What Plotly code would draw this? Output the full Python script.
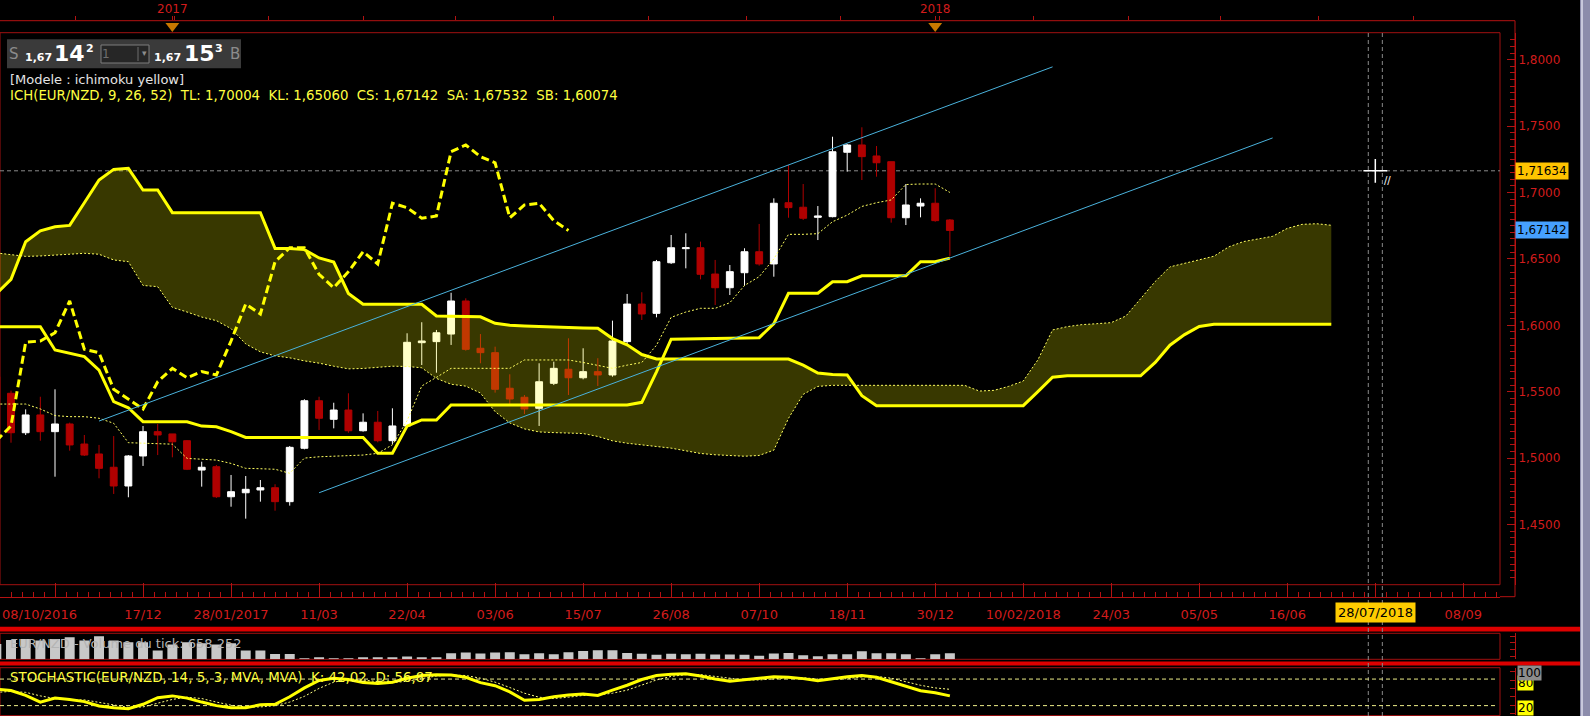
import pandas as pd
import plotly.graph_objects as go

W, H = 1590, 716
FONT = 'DejaVu Sans'
RED_TXT = '#d21c1c'
RED_LINE = '#b41212'
FRAME = '#a01010'
YEL = '#ffff00'


def fx(p):  # pixel column -> paper x
    return p / W


def fy(p):  # pixel row -> paper y
    return 1 - p / H


# weekly EUR/NZD bars, 08/10/2016 -> 06/01/2018
dates = pd.date_range('2016-10-08', periods=66, freq='7D')
# kumo projected 26 weeks ahead
kumo_dates = pd.date_range('2016-10-08', periods=92, freq='7D')

open_ = [1.5613, 1.5488, 1.5191, 1.5325, 1.5199, 1.5257, 1.5106, 1.5031, 1.4931, 1.4790,
         1.5016, 1.5199, 1.5182, 1.5131, 1.4910, 1.4935, 1.4709, 1.4739, 1.4760, 1.4777,
         1.4672, 1.5074, 1.5432, 1.5292, 1.5362, 1.5206, 1.5270, 1.5131, 1.5242, 1.5869,
         1.5877, 1.5934, 1.6183, 1.5827, 1.5794, 1.5526, 1.5458, 1.5375, 1.5563, 1.5669,
         1.5605, 1.5651, 1.5626, 1.5877, 1.6160, 1.6090, 1.6471, 1.6577, 1.6584, 1.6386,
         1.6283, 1.6396, 1.6554, 1.6462, 1.6923, 1.6889, 1.6813, 1.6818, 1.7303, 1.7358,
         1.7275, 1.7232, 1.6810, 1.6898, 1.6919, 1.6793]
high = [1.5650, 1.5508, 1.5367, 1.5462, 1.5518, 1.5267, 1.5174, 1.5099, 1.5166, 1.5023,
        1.5242, 1.5257, 1.5182, 1.5136, 1.4973, 1.4948, 1.4873, 1.4865, 1.4835, 1.4803,
        1.5091, 1.5443, 1.5462, 1.5417, 1.5488, 1.5337, 1.5355, 1.5375, 1.5940, 1.6023,
        1.5965, 1.6245, 1.6203, 1.5934, 1.5839, 1.5631, 1.5475, 1.5714, 1.5726, 1.5902,
        1.5827, 1.5752, 1.6035, 1.6236, 1.6249, 1.6492, 1.6680, 1.6693, 1.6630, 1.6492,
        1.6454, 1.6580, 1.6763, 1.6956, 1.7207, 1.7064, 1.6898, 1.7420, 1.7365, 1.7491,
        1.7350, 1.7232, 1.7064, 1.6956, 1.7032, 1.6800]
low = [1.5400, 1.5116, 1.5174, 1.5131, 1.4860, 1.5056, 1.5016, 1.4848, 1.4730, 1.4705,
       1.4941, 1.5023, 1.5006, 1.4910, 1.4785, 1.4700, 1.4634, 1.4544, 1.4672, 1.4604,
       1.4642, 1.5066, 1.5212, 1.5224, 1.5191, 1.5199, 1.5119, 1.5106, 1.5236, 1.5701,
       1.5643, 1.5852, 1.5809, 1.5714, 1.5493, 1.5407, 1.5332, 1.5242, 1.5550, 1.5475,
       1.5593, 1.5543, 1.5613, 1.5852, 1.6040, 1.6060, 1.6462, 1.6429, 1.6346, 1.6153,
       1.6228, 1.6298, 1.6449, 1.6366, 1.6810, 1.6793, 1.6642, 1.6813, 1.7157, 1.7094,
       1.7119, 1.6773, 1.6755, 1.6813, 1.6780, 1.6522]
close = [1.5440, 1.5191, 1.5325, 1.5199, 1.5257, 1.5099, 1.5023, 1.4923, 1.4790, 1.5016,
         1.5199, 1.5174, 1.5123, 1.4916, 1.4931, 1.4709, 1.4747, 1.4765, 1.4777, 1.4672,
         1.5081, 1.5432, 1.5300, 1.5362, 1.5206, 1.5270, 1.5131, 1.5242, 1.5872, 1.5882,
         1.5944, 1.6183, 1.5819, 1.5794, 1.5518, 1.5445, 1.5370, 1.5575, 1.5676, 1.5605,
         1.5651, 1.5626, 1.5882, 1.6160, 1.6085, 1.6479, 1.6584, 1.6584, 1.6384, 1.6283,
         1.6404, 1.6554, 1.6462, 1.6919, 1.6886, 1.6806, 1.6823, 1.7307, 1.7358, 1.7270,
         1.7224, 1.6810, 1.6906, 1.6919, 1.6788, 1.67142]

tenkan = [1.5407, 1.5407, 1.5407, 1.5370, 1.5320, 1.5312, 1.5312, 1.5300, 1.5262, 1.5116,
          1.5111, 1.5111, 1.5105, 1.4998, 1.4991, 1.4985, 1.4960, 1.4923, 1.4920, 1.4916,
          1.4886, 1.5000, 1.5010, 1.5015, 1.5020, 1.5023, 1.5036, 1.5100, 1.5282, 1.5543,
          1.5608, 1.5676, 1.5676, 1.5676, 1.5676, 1.5676, 1.5739, 1.5739, 1.5739, 1.5739,
          1.5720, 1.5700, 1.5676, 1.5700, 1.5720, 1.5850, 1.6060, 1.6100, 1.6128, 1.6128,
          1.6170, 1.6300, 1.6366, 1.6500, 1.6685, 1.6685, 1.6690, 1.6780, 1.6830, 1.6895,
          1.6923, 1.6944, 1.7060, 1.7064, 1.7064, 1.70004]
kijun = [1.5989, 1.5989, 1.5989, 1.5989, 1.5814, 1.5789, 1.5764, 1.5663, 1.5425, 1.5379,
         1.5274, 1.5274, 1.5274, 1.5274, 1.5241, 1.5236, 1.5199, 1.5156, 1.5156, 1.5156,
         1.5156, 1.5156, 1.5156, 1.5156, 1.5156, 1.5156, 1.5036, 1.5036, 1.5241, 1.5287,
         1.5287, 1.5400, 1.5400, 1.5400, 1.5400, 1.5400, 1.5400, 1.5400, 1.5400, 1.5400,
         1.5400, 1.5400, 1.5400, 1.5400, 1.5420, 1.5650, 1.5895, 1.5895, 1.5897, 1.5900,
         1.5902, 1.5905, 1.5907, 1.6012, 1.6241, 1.6241, 1.6241, 1.6328, 1.6328, 1.6373,
         1.6373, 1.6373, 1.6373, 1.6479, 1.6479, 1.65060]
senkou_a = [1.6545, 1.6530, 1.6519, 1.6522, 1.6530, 1.6537, 1.6542, 1.6535, 1.6492, 1.6479,
            1.6300, 1.6291, 1.6135, 1.6100, 1.6062, 1.6035, 1.5975, 1.5860, 1.5800, 1.5770,
            1.5755, 1.5732, 1.5715, 1.5692, 1.5672, 1.5675, 1.5683, 1.5692, 1.5690, 1.5680,
            1.5600, 1.5556, 1.5542, 1.5490, 1.5350, 1.5265, 1.5220, 1.5197, 1.5192, 1.5191,
            1.5185, 1.5163, 1.5130, 1.5112, 1.5100, 1.5092, 1.5075, 1.5055, 1.5035, 1.5025,
            1.5018, 1.5014, 1.5020, 1.5060, 1.5300, 1.5480, 1.5540, 1.5548, 1.5548, 1.5548,
            1.5548, 1.5548, 1.5548, 1.5548, 1.5548, 1.5548, 1.5548, 1.5505, 1.5510, 1.5540,
            1.5580, 1.5740, 1.5965, 1.5990, 1.6005, 1.6012, 1.6020, 1.6070, 1.6200, 1.6330,
            1.6440, 1.6465, 1.6490, 1.6520, 1.6590, 1.6630, 1.6650, 1.6670, 1.6730, 1.6760,
            1.6765, 1.67532]
senkou_b = [1.6238, 1.6346, 1.6629, 1.6712, 1.6742, 1.6752, 1.6923, 1.7094, 1.7174, 1.7182,
            1.7019, 1.7019, 1.6848, 1.6848, 1.6848, 1.6848, 1.6848, 1.6848, 1.6848, 1.6579,
            1.6579, 1.6570, 1.6507, 1.6476, 1.6240, 1.6158, 1.6158, 1.6158, 1.6158, 1.6158,
            1.6070, 1.6067, 1.6066, 1.6064, 1.6015, 1.6000, 1.5995, 1.5990, 1.5988, 1.5985,
            1.5980, 1.5977, 1.5900, 1.5853, 1.5780, 1.5746, 1.5746, 1.5746, 1.5746, 1.5746,
            1.5746, 1.5746, 1.5746, 1.5746, 1.5746, 1.5700, 1.5640, 1.5630, 1.5626, 1.5470,
            1.5395, 1.5395, 1.5395, 1.5395, 1.5395, 1.5395, 1.5395, 1.5395, 1.5395, 1.5395,
            1.5395, 1.5500, 1.5609, 1.5620, 1.5620, 1.5620, 1.5620, 1.5620, 1.5620, 1.5720,
            1.5850, 1.5930, 1.5991, 1.6007, 1.6007, 1.6007, 1.6007, 1.6007, 1.6007, 1.6007,
            1.6007, 1.60074]

# hand-drawn trend channel (start / end of each line)
chan_up_x = ['2016-11-26', '2018-02-24']
chan_up_y = [1.5279, 1.7946]
chan_lo_x = ['2017-03-11', '2018-06-09']
chan_lo_y = [1.4739, 1.7411]

volume = [1680000, 2120000, 2230000, 2060000, 2230000, 2420000, 2060000, 2530000, 2060000, 1870000,
          1870000, 960000, 1620000, 1870000, 1760000, 1620000, 1760000, 960000, 960000, 580000,
          580000, 40000, 140000, 80000, 80000, 140000, 140000, 140000, 300000, 220000,
          140000, 660000, 740000, 630000, 740000, 770000, 550000, 660000, 550000, 770000,
          910000, 990000, 990000, 700000, 620000, 500000, 600000, 550000, 600000, 520000,
          520000, 500000, 400000, 630000, 700000, 440000, 330000, 550000, 550000, 880000,
          660000, 660000, 550000, 100000, 550000, 658252]

stoch_k = [57, 54, 43, 28, 37, 34, 29, 19, 15, 13, 23, 38, 42, 37, 28, 20, 15, 15, 22, 23,
           40, 60, 77, 82, 79, 72, 70, 73, 82, 88, 90, 89, 84, 72, 65, 51, 32, 34, 40, 44,
           46, 43, 55, 66, 79, 88, 91, 92, 87, 80, 75, 78, 81, 85, 84, 81, 76, 81, 85, 88,
           84, 74, 64, 53.5, 49, 42.02]
stoch_d = [50, 52, 50, 42, 36, 33, 33, 27, 21, 16, 17, 25, 34, 39, 36, 28, 21, 17, 17, 20,
           28, 41, 59, 73, 79, 78, 74, 72, 75, 81, 87, 89, 88, 82, 73, 61, 48, 39, 36, 39,
           43, 44, 48, 55, 67, 78, 86, 90, 90, 86, 81, 78, 78, 81, 83, 83, 80, 79, 81, 85,
           86, 82, 74, 66, 60, 56.87]

tick_dates = ['2016-11-05', '2016-12-17', '2017-01-28', '2017-03-11', '2017-04-22', '2017-06-03',
              '2017-07-15', '2017-08-26', '2017-10-07', '2017-11-18', '2017-12-30', '2018-02-10',
              '2018-03-24', '2018-05-05', '2018-06-16', '2018-07-28', '2018-09-08']
tick_text = ['', '17/12', '28/01/2017', '11/03', '22/04', '03/06', '15/07', '26/08', '07/10',
             '18/11', '30/12', '10/02/2018', '24/03', '05/05', '16/06', '28/07/2018', '08/09']
year_dates = ['2016-12-31', '2017-12-30']
year_text = ['2017', '2018']
top_minor = ['2016-11-15', '2017-01-01', '2017-02-15', '2017-04-01', '2017-05-15', '2017-07-01',
             '2017-08-15', '2017-10-01', '2017-11-15', '2018-01-01', '2018-02-15', '2018-04-01',
             '2018-05-15', '2018-07-01', '2018-08-15']

cursor_date = '2018-07-28'
cursor_price = 1.71634
last_close = close[-1]
x_range = ['2016-10-09 18:00', '2018-09-25 12:00']


def fmt(v, d):
    return f'{v:.{d}f}'.replace('.', ',')


fig = go.Figure()

fig.add_trace(go.Candlestick(
    x=dates, open=open_, high=high, low=low, close=close,
    increasing=dict(line=dict(color='#ffffff', width=1), fillcolor='#ffffff'),
    decreasing=dict(line=dict(color='#b00000', width=1), fillcolor='#b00000'),
    whiskerwidth=0, hoverinfo='skip', showlegend=False))

# kumo: yellow veil laid over the candles
fig.add_trace(go.Scatter(x=kumo_dates, y=senkou_b, mode='lines',
                         line=dict(color=YEL, width=3), showlegend=False))
fig.add_trace(go.Scatter(x=kumo_dates, y=senkou_a, mode='lines',
                         line=dict(color='#ffff60', width=1, dash='2px,2px'),
                         fill='tonexty', fillcolor='rgba(255,255,0,0.22)', showlegend=False))
fig.add_trace(go.Scatter(x=dates, y=kijun, mode='lines',
                         line=dict(color=YEL, width=3), showlegend=False))
fig.add_trace(go.Scatter(x=dates, y=tenkan, mode='lines',
                         line=dict(color='#ffff60', width=1, dash='2px,2px'), showlegend=False))
# chikou = close drawn 26 weeks back
fig.add_trace(go.Scatter(x=dates[:40], y=close[26:], mode='lines',
                         line=dict(color=YEL, width=3, dash='8px,4px'), showlegend=False))

for cx, cy in [(chan_up_x, chan_up_y), (chan_lo_x, chan_lo_y)]:
    fig.add_trace(go.Scatter(x=cx, y=cy, mode='lines',
                             line=dict(color='#4ab2dc', width=1), showlegend=False))

fig.add_trace(go.Scatter(x=[cursor_date], y=[cursor_price], mode='markers',
                         marker=dict(symbol='cross-thin', size=17,
                                     line=dict(color='#ffffff', width=1.5)),
                         showlegend=False))

fig.add_trace(go.Bar(x=dates, y=volume, marker=dict(color='#c8c8c8', line=dict(width=0)),
                     xaxis='x2', yaxis='y2', showlegend=False))

fig.add_trace(go.Scatter(x=dates, y=stoch_d, mode='lines', xaxis='x3', yaxis='y3',
                         line=dict(color='#ffff80', width=1, dash='2px,2px'), showlegend=False))
fig.add_trace(go.Scatter(x=dates, y=stoch_k, mode='lines', xaxis='x3', yaxis='y3',
                         line=dict(color=YEL, width=3), showlegend=False))

fig.add_trace(go.Scatter(x=year_dates, y=[0.55, 0.55], mode='markers', xaxis='x4', yaxis='y4',
                         marker=dict(symbol='triangle-down', size=12, color='#c87800'),
                         showlegend=False))

plot_dom = [0, fx(1500)]
red_font = dict(family=FONT, size=13, color=RED_TXT)

fig.update_layout(
    width=W, height=H, margin=dict(l=0, r=0, t=0, b=0, pad=0),
    paper_bgcolor='#000000', plot_bgcolor='#000000',
    separators=',.', hovermode=False, dragmode=False, showlegend=False,
    boxgap=0.33, bargap=0.32,
    font=dict(family=FONT, color=RED_TXT),
    xaxis=dict(domain=plot_dom, range=x_range, type='date', anchor='free', position=fy(596.7),
               tickmode='array', tickvals=tick_dates, ticktext=tick_text,
               ticks='inside', ticklen=14, tickcolor=RED_LINE, tickwidth=1,
               showline=True, linecolor=RED_LINE, linewidth=1, showgrid=False, zeroline=False,
               tickfont=red_font, ticklabelstandoff=6,
               minor=dict(ticks='inside', ticklen=5, tickcolor=RED_LINE, tick0='2016-11-05',
                          dtick=453600000, showgrid=False),
               rangeslider=dict(visible=False), fixedrange=True),
    yaxis=dict(domain=[fy(584.7), fy(32.7)], range=[1.40467, 1.82033], side='right',
               anchor='free', position=fx(1515), tickmode='linear', tick0=1.45, dtick=0.05,
               tickformat='.4f', ticks='inside', ticklen=8, tickcolor=RED_LINE,
               minor=dict(ticks='inside', ticklen=5, tickcolor=RED_LINE, tick0=1.45, dtick=0.005,
                          showgrid=False),
               showline=True, linecolor=RED_LINE, showgrid=False, zeroline=False,
               tickfont=dict(family=FONT, size=12, color=RED_TXT), fixedrange=True),
    xaxis2=dict(domain=plot_dom, matches='x', anchor='y2', visible=False),
    yaxis2=dict(domain=[fy(659.3), fy(633.3)], range=[0, 2860000], side='right',
                anchor='free', position=fx(1515), showticklabels=False, ticks='inside',
                ticklen=5, tickcolor=RED_LINE, tickmode='linear', tick0=363000, dtick=733000,
                showline=True, linecolor=RED_LINE, showgrid=False, zeroline=False),
    xaxis3=dict(domain=plot_dom, matches='x', anchor='y3', visible=False),
    yaxis3=dict(domain=[fy(715.4), fy(667.7)], range=[-2.1, 105.7], side='right',
                anchor='free', position=fx(1515), showticklabels=False, ticks='inside',
                ticklen=5, tickcolor=RED_LINE, tickmode='linear', tick0=1.8, dtick=19,
                showline=True, linecolor=RED_LINE, showgrid=False, zeroline=False),
    xaxis4=dict(domain=plot_dom, matches='x', anchor='y4', side='top', tickmode='array',
                tickvals=year_dates, ticktext=year_text, ticks='outside', ticklen=4,
                tickcolor=RED_LINE, showline=False, showgrid=False, zeroline=False,
                tickfont=dict(family=FONT, size=12, color=RED_TXT), ticklabelstandoff=-2,
                minor=dict(tickmode='array', tickvals=top_minor, ticks='outside', ticklen=4,
                           tickcolor=RED_LINE)),
    yaxis4=dict(domain=[fy(32.7), fy(20.7)], range=[0, 1], visible=False),
)

shapes = []


def rect(x0, y0, x1, y1, fill=None, line=None, lw=1, layer='below'):
    shapes.append(dict(type='rect', xref='paper', yref='paper', x0=fx(x0), x1=fx(x1),
                       y0=fy(y1), y1=fy(y0), fillcolor=fill or 'rgba(0,0,0,0)',
                       line=dict(color=line or 'rgba(0,0,0,0)', width=lw if line else 0),
                       layer=layer))


def hline(x0, x1, y, color, width=1, dash='solid'):
    shapes.append(dict(type='line', xref='paper', yref='paper', x0=fx(x0), x1=fx(x1),
                       y0=fy(y), y1=fy(y), line=dict(color=color, width=width, dash=dash)))


def vline(x, y0, y1, color, width=1):
    shapes.append(dict(type='line', xref='paper', yref='paper', x0=fx(x), x1=fx(x),
                       y0=fy(y0), y1=fy(y1), line=dict(color=color, width=width)))


# frames and separators
rect(0, 32.7, 1500, 584.7, line=FRAME)
rect(0, 633.3, 1500, 659.3, line=FRAME)
rect(0, 667.7, 1500, 715.6, line=FRAME)
hline(0, 1515, 20.7, RED_LINE)
vline(1515, 20.7, 596.7, RED_LINE)
hline(1500, 1515, 596.7, RED_LINE)
rect(0, 626.8, 1580, 631.5, fill='#dd0000')
rect(0, 661.5, 1580, 665.5, fill='#dd0000')
rect(1580, 0, 1590, 716, fill='#8c8cab')
vline(1582, 0, 716, '#c8c8dc', 2)

# header block
rect(7, 39.3, 241, 68.3, fill='#3a3a3a', layer='above')
rect(101, 45, 149, 63, fill='#262626', line='#7c7c7c', layer='above')
shapes.append(dict(type='line', xref='paper', yref='paper', x0=fx(138), x1=fx(138),
                   y0=fy(47), y1=fy(61), line=dict(color='#6c6c6c', width=1), layer='above'))

# crosshair
shapes.append(dict(type='line', xref='paper', yref='y', x0=0, x1=fx(1500),
                   y0=cursor_price, y1=cursor_price,
                   line=dict(color='#8a8a8a', width=1, dash='4px,3px'), layer='below'))
cur = pd.Timestamp(cursor_date)
for off in (-3.35, 3.35):
    xd = cur + pd.Timedelta(days=off)
    shapes.append(dict(type='line', xref='x', yref='paper', x0=xd, x1=xd, y0=0, y1=fy(32.7),
                       line=dict(color='#8a8a8a', width=1, dash='4px,3px'), layer='below'))

# stochastic 80 / 20 levels
for lvl in (80, 20):
    shapes.append(dict(type='line', xref='paper', yref='y3', x0=0, x1=fx(1496), y0=lvl, y1=lvl,
                       line=dict(color='#eeee88', width=1, dash='4px,3px'), layer='below'))

fig.update_layout(shapes=shapes)

ann = []


def text(x, y, s, color, size=12, anchor='left', **kw):
    ann.append(dict(xref='paper', yref='paper', x=fx(x), y=fy(y), text=s, showarrow=False,
                    xanchor=anchor, yanchor='middle',
                    font=dict(family=FONT, size=size, color=color), **kw))


text(0, 614, '08/10/2016', RED_TXT, 13)
ann.append(dict(xref='x', yref='paper', x=cursor_date, y=fy(612), text='28/07/2018',
                showarrow=False, xanchor='center', yanchor='middle', bgcolor='#ffcc00',
                borderpad=2, font=dict(family=FONT, size=13, color='#000000')))
ann.append(dict(xref='paper', yref='y', x=fx(1515), y=cursor_price, text=fmt(cursor_price, 5),
                showarrow=False, xanchor='left', yanchor='middle', bgcolor='#ffc400',
                borderpad=1, font=dict(family=FONT, size=12, color='#000000')))
ann.append(dict(xref='paper', yref='y', x=fx(1515), y=last_close, text=fmt(last_close, 5),
                showarrow=False, xanchor='left', yanchor='middle', bgcolor='#46a0ff',
                borderpad=1, font=dict(family=FONT, size=12, color='#000000')))
for lvl, bg, ys in [(80, '#ffff00', -4), (100, '#8c8c8c', -3), (20, '#ffff00', -2)]:
    ann.append(dict(xref='paper', yref='y3', x=fx(1517), y=lvl, yshift=ys, text=str(lvl),
                    showarrow=False, xanchor='left', yanchor='middle', bgcolor=bg, borderpad=0,
                    font=dict(family=FONT, size=12, color='#000000')))
# cursor tick marks
ann.append(dict(xref='x', yref='y', x=cursor_date, y=cursor_price, xshift=12, yshift=-10,
                text='//', showarrow=False, font=dict(family=FONT, size=10, color='#ffffff')))

# header
text(14, 54, 'S', '#8c8c8c', 15, 'center')
text(38, 57.5, '<b>1,67</b>', '#ffffff', 11, 'center')
text(69, 53.5, '<b>14</b>', '#ffffff', 22, 'center')
text(90, 48.5, '<b>2</b>', '#ffffff', 11, 'center')
text(106, 54, '1', '#6e6e6e', 12, 'center')
text(144, 53, '▾', '#8c8c8c', 9, 'center')
text(167, 57.5, '<b>1,67</b>', '#ffffff', 11, 'center')
text(199, 53.5, '<b>15</b>', '#ffffff', 22, 'center')
text(219, 48.5, '<b>3</b>', '#ffffff', 11, 'center')
text(235, 54, 'B', '#8c8c8c', 15, 'center')
text(8, 79.3, '[Modele : ichimoku yellow]', '#e4e4e4', 13)
ich = ('ICH(EUR/NZD, 9, 26, 52)  TL: %s  KL: %s  CS: %s  SA: %s  SB: %s'
       % (fmt(tenkan[-1], 5), fmt(kijun[-1], 5), fmt(last_close, 5),
          fmt(senkou_a[-1], 5), fmt(senkou_b[-1], 5)))
text(8, 95, ich, '#ffff40', 13.3)
text(8, 643, 'EUR/NZD - Volume du tick: 658 252', '#b4b4b4', 13)
text(8, 677.5, 'STOCHASTIC(EUR/NZD, 14, 5, 3, MVA, MVA)  K: %s  D: %s'
     % (fmt(stoch_k[-1], 2), fmt(stoch_d[-1], 2)), '#ffff40', 13.4)

fig.update_layout(annotations=ann)

fig.write_html('out.html', config={'displayModeBar': False},
               post_script="document.body.style.margin='0';")
